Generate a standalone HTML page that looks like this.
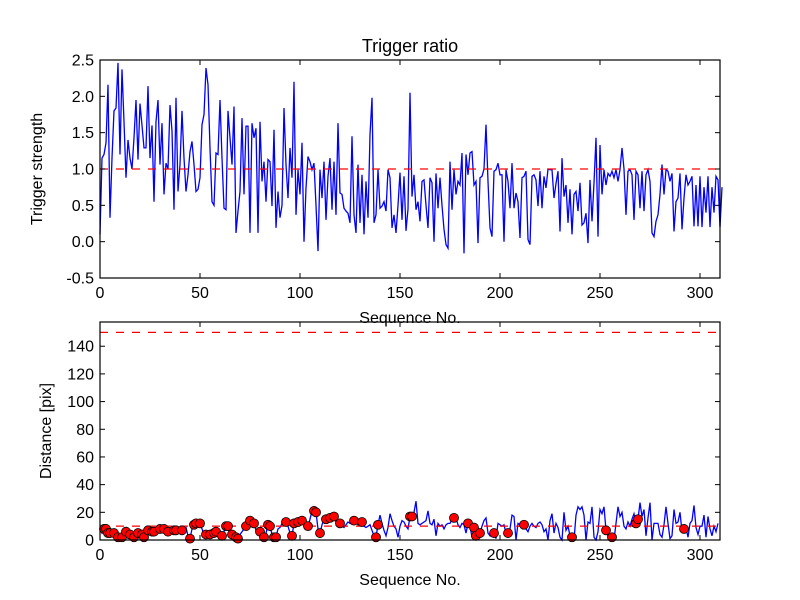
<!DOCTYPE html>
<html><head><meta charset="utf-8"><style>
body{margin:0;background:#fff}
svg{display:block;font-family:"Liberation Sans",sans-serif}
</style></head><body>
<svg id="c" width="800" height="600"></svg>
<script>
const strength=[0.1,1.15,1.2,1.36,2.16,0.33,1.15,1.8,1.84,2.46,1.2,2.37,1.65,0.88,1.4,1.15,1.0,1.43,1.95,1.13,1.9,1.6,1.29,1.29,2.14,1.15,1.6,0.55,1.65,1.95,1.06,1.63,0.65,1.08,1.0,1.88,1.52,0.44,1.98,0.69,1.06,1.8,1.15,0.69,0.92,1.24,1.38,1.06,0.69,0.72,0.88,1.61,1.75,2.39,2.16,1.29,0.55,0.5,1.22,1.2,1.95,1.15,0.46,0.44,1.8,1.43,1.06,1.86,0.12,0.42,0.69,1.7,0.65,1.59,1.59,0.12,1.63,1.43,1.56,0.12,1.65,0.83,1.1,0.55,1.13,1.1,0.49,1.54,0.19,0.69,0.33,0.5,1.84,1.06,0.6,1.29,0.88,2.2,0.37,0.99,0.65,1.36,0.0,0.74,1.17,1.1,0.99,1.08,0.5,-0.13,0.99,0.6,1.1,0.3,0.9,1.15,0.44,1.1,0.37,1.63,0.67,0.65,0.46,0.42,0.39,0.26,1.45,0.37,0.12,1.06,0.26,0.92,0.1,0.83,0.33,1.47,1.98,0.26,0.37,0.99,0.46,0.49,0.55,0.42,0.99,0.88,0.19,0.37,0.12,0.5,0.95,0.3,0.9,0.15,0.45,2.05,0.62,0.92,0.44,0.55,0.28,0.83,0.85,0.5,0.19,0.88,0.81,0.0,0.94,0.46,0.88,0.5,0.17,-0.04,-0.09,1.1,0.44,0.99,0.65,0.83,0.78,1.22,-0.16,1.2,0.92,1.22,1.24,0.78,0.83,-0.02,0.88,0.9,1.0,1.61,0.83,0.19,0.07,0.97,0.99,1.08,0.92,0.92,0.0,0.99,0.83,0.46,1.08,0.46,0.67,0.55,0.05,0.88,0.9,0.97,0.03,-0.04,0.9,0.92,0.85,0.49,0.97,0.46,0.9,0.74,1.0,0.99,0.99,0.6,0.8,0.97,0.14,1.15,0.62,0.78,0.26,0.72,0.1,0.65,0.69,0.42,0.81,0.23,0.26,0.39,-0.02,0.85,0.28,0.81,1.43,0.07,1.33,0.65,0.99,0.78,0.94,0.9,0.97,0.88,0.99,0.83,0.99,1.29,1.0,0.37,0.97,0.99,0.92,0.3,0.97,0.92,0.46,0.97,0.42,0.92,0.99,0.83,0.12,0.07,0.28,0.37,0.65,1.06,0.65,0.99,0.97,0.83,0.94,0.14,0.55,0.6,0.94,0.17,0.6,0.92,0.78,0.83,0.9,0.21,0.78,0.21,0.9,0.2,0.75,0.4,0.9,0.2,0.75,0.4,0.9,0.85,0.2,0.75];
const distance=[8,5,8,8,5,5,3,5,5,2,3,2,4,6,5,4,2,2,3,5,4,4,2,5,7,6,6,6,6,8,8,8,8,7,6,6,7,7,7,8,7,7,8,9,3,1,8,11,12,12,12,8,4,4,3,4,3,5,6,3,3,3,6,10,10,4,4,2,2,1,4,6,8,10,13,14,12,12,7,6,6,3,2,5,11,10,4,2,2,8,9,12,13,13,10,5,3,12,13,13,12,14,13,10,10,15,21,21,20,8,5,11,15,15,15,16,17,17,13,13,12,10,9,11,13,12,14,14,13,11,13,13,10,9,10,11,7,3,2,11,18,12,7,3,9,19,14,10,8,2,10,14,13,10,8,17,17,20,28,12,11,12,13,14,21,12,11,15,3,12,10,11,8,11,12,12,15,16,16,11,9,12,11,5,12,10,2,9,3,5,5,10,14,16,5,3,7,5,1,12,11,10,11,5,5,8,18,17,0,12,11,11,11,8,6,10,12,10,9,12,13,11,6,8,0,14,19,5,12,9,2,0,20,7,10,3,2,0,18,24,22,24,18,0,13,12,24,2,0,6,22,19,24,7,3,2,2,0,12,24,17,20,10,8,13,10,15,19,12,15,27,17,22,3,16,27,0,12,12,12,4,2,11,24,12,1,3,22,12,13,20,6,8,9,2,12,14,25,9,4,10,10,18,2,17,8,3,10,6,12];
const dotIdx=[2,3,4,5,7,9,11,13,15,17,19,21,22,24,26,27,30,32,34,37,38,41,45,47,48,50,53,55,57,58,61,63,64,66,68,69,73,75,77,80,82,84,85,87,88,93,96,97,99,101,104,107,108,110,113,115,117,120,127,131,138,139,155,156,177,184,187,188,190,197,204,212,236,253,256,268,269,292];
const xTicks=[0,50,100,150,200,250,300];
const topYTicks=[-0.5,0.0,0.5,1.0,1.5,2.0,2.5];
const botYTicks=[0,20,40,60,80,100,120,140];
const topThreshold=[1.0];
const botThresholds=[150,10];

const NS='http://www.w3.org/2000/svg';
const svg=document.getElementById('c');
function el(t,a,p){const e=document.createElementNS(NS,t);for(const k in a)e.setAttribute(k,a[k]);(p||svg).appendChild(e);return e;}
const X0=100,X1=720;
const sx=v=>X0+(v/310)*(X1-X0);
function axes(name,y0,y1,ymin,ymax,yt,fmt,ylabel,title,ylx){
  const sy=v=>y1-(v-ymin)/(ymax-ymin)*(y1-y0);
  const g=el('g',{});
  
  
  return {g,sy,finish(){
    el('rect',{x:X0,y:y0,width:X1-X0,height:y1-y0,fill:'none',stroke:'#000','stroke-width':1.2},g);
    xTicks.forEach(t=>{const x=sx(t);
      el('line',{x1:x,x2:x,y1:y1,y2:y1-5,stroke:'#000'},g);el('line',{x1:x,x2:x,y1:y0,y2:y0+5,stroke:'#000'},g);
      const tx=el('text',{x:x,y:y1+20,'text-anchor':'middle','font-size':16},g);tx.textContent=t;
      });
    yt.forEach(t=>{const y=sy(t);
      el('line',{x1:X0,x2:X0+5,y1:y,y2:y,stroke:'#000'},g);el('line',{x1:X1,x2:X1-5,y1:y,y2:y,stroke:'#000'},g);
      const tx=el('text',{x:X0-6,y:y+5.5,'text-anchor':'end','font-size':16},g);tx.textContent=fmt(t);
      });
    const xl=el('text',{x:410,y:y1+45,'text-anchor':'middle','font-size':16},g);xl.textContent='Sequence No.';
    
    const cy=(y0+y1)/2;
    const yl=el('text',{x:0,y:0,'text-anchor':'middle','font-size':16,transform:`translate(${ylx},${cy}) rotate(-90)`},g);yl.textContent=ylabel;
    
    if(title){const tt=el('text',{x:410,y:52,'text-anchor':'middle','font-size':18},g);tt.textContent=title;
      }
  }};
}
const A=axes('top-axes',60,278,-0.5,2.5,topYTicks,t=>t.toFixed(1),'Trigger strength','Trigger ratio',42);
let d=strength.map((v,i)=>(i?'L':'M')+sx(i).toFixed(1)+','+A.sy(v).toFixed(1)).join('');
const l1=el('path',{d,fill:'none',stroke:'#0000ff','stroke-width':1.3},A.g);

topThreshold.forEach(v=>{const h=el('line',{x1:X0,x2:X1,y1:A.sy(v),y2:A.sy(v),stroke:'#ff0000','stroke-dasharray':'8,8','stroke-width':1.2},A.g);
  });
A.finish();
const B=axes('bottom-axes',322,540,0,157.5,botYTicks,t=>t,'Distance [pix]',null,51);
d=distance.map((v,i)=>(i?'L':'M')+sx(i).toFixed(1)+','+B.sy(v).toFixed(1)).join('');
const l2=el('path',{d,fill:'none',stroke:'#0000ff','stroke-width':1.3},B.g);

botThresholds.forEach(v=>{const h=el('line',{x1:X0,x2:X1,y1:B.sy(v),y2:B.sy(v),stroke:'#ff0000','stroke-dasharray':'8,8','stroke-width':1.2},B.g);
  });
dotIdx.forEach(i=>{const c=el('circle',{cx:sx(i),cy:B.sy(distance[i]),r:4.5,fill:'#ff0000',stroke:'#000','stroke-width':0.8},B.g);
  });
B.finish();
</script>
</body></html>
